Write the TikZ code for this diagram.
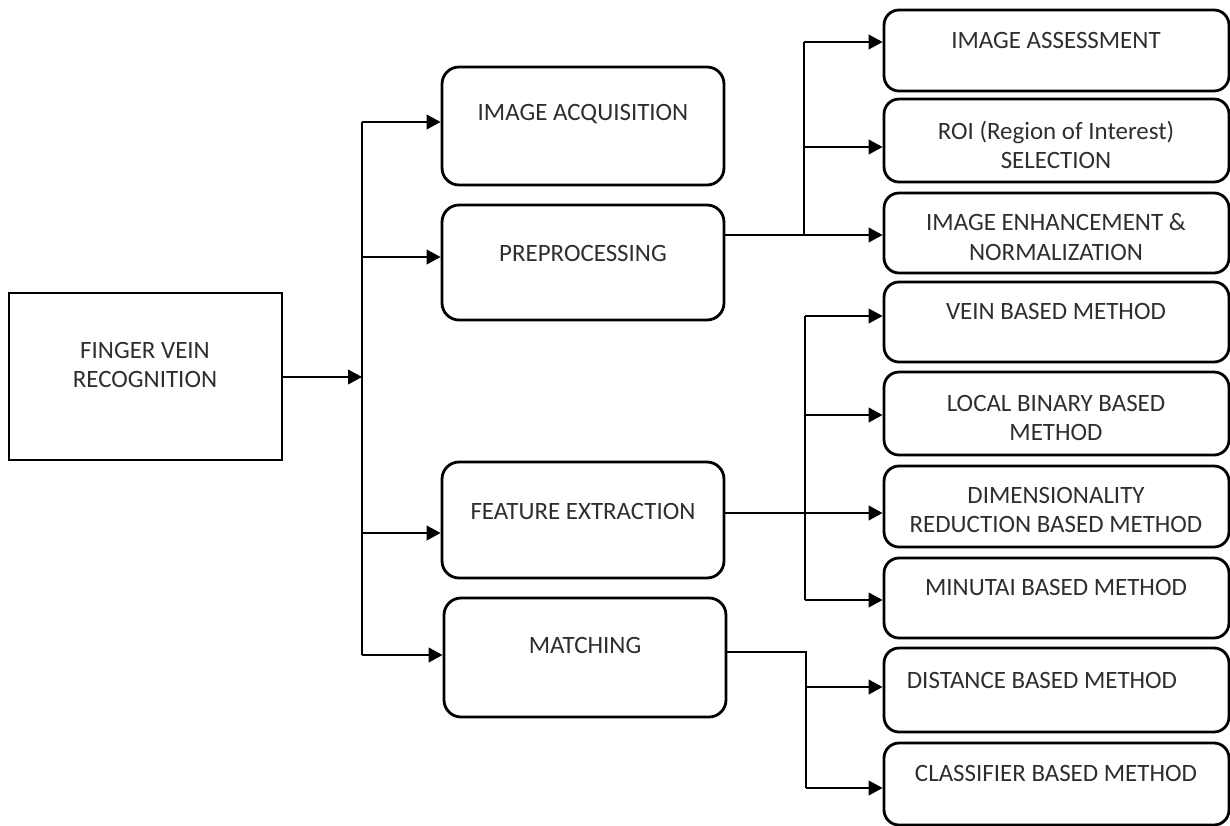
\documentclass[tikz,border=0pt]{standalone}
\usepackage{fontspec}
\setmainfont{Carlito}
\usetikzlibrary{arrows.meta}

\begin{document}
\begin{tikzpicture}[x=0.02cm, y=-0.02cm, line width=1.35pt,
    arr/.style={-{Triangle[length=2.8mm, width=2.9mm]}},
    rootbox/.style={draw, line width=1.6pt, minimum width=5.46cm, minimum height=3.34cm},
    stage/.style={draw, line width=1.6pt, rounded corners=0.34cm, minimum width=5.64cm},
    method/.style={draw, line width=1.6pt, rounded corners=0.3cm, minimum width=6.9cm},
    txt/.style={font=\fontsize{14.2}{17}\selectfont, text=black!82, align=center, inner sep=0pt}]
        \useasboundingbox (0,0) rectangle (1230,825);

        % --- Khối gốc ---
        \node[rootbox] (root) at (145.5,376.5) {};
        \node[txt] (rootT) at (145,365) {FINGER VEIN\\RECOGNITION};

        % --- Các bước chính (cột giữa) ---
        \node[stage, minimum height=2.36cm] (acq) at (583,126) {};
        \node[txt] (acqT) at (583,114) {IMAGE ACQUISITION};
        \node[stage, minimum height=2.30cm] (prep) at (583,262.5) {};
        \node[txt] (prepT) at (583,253) {PREPROCESSING};
        \node[stage, minimum height=2.32cm] (feat) at (583,520) {};
        \node[txt] (featT) at (583,511) {FEATURE EXTRACTION};
        \node[stage, minimum height=2.38cm] (match) at (585,657.5) {};
        \node[txt] (matchT) at (585,645) {MATCHING};

        % --- Các phương pháp (cột phải) ---
        \node[method, minimum height=1.62cm] (assess) at (1056.5,50.5) {};
        \node[txt] (assessT) at (1056,40) {IMAGE ASSESSMENT};
        \node[method, minimum height=1.66cm] (roi) at (1056.5,140.5) {};
        \node[txt] (roiT) at (1056,145) {ROI (Region of Interest)\\SELECTION};
        \node[method, minimum height=1.60cm] (enh) at (1056.5,233) {};
        \node[txt] (enhT) at (1056,237) {IMAGE ENHANCEMENT \&\\NORMALIZATION};
        \node[method, minimum height=1.60cm] (vein) at (1056.5,322) {};
        \node[txt] (veinT) at (1056,311) {VEIN BASED METHOD};
        \node[method, minimum height=1.66cm] (lbp) at (1056.5,413.5) {};
        \node[txt] (lbpT) at (1056,418) {LOCAL BINARY BASED\\METHOD};
        \node[method, minimum height=1.62cm] (dim) at (1056.5,506.5) {};
        \node[txt] (dimT) at (1056,510) {DIMENSIONALITY\\REDUCTION BASED METHOD};
        \node[method, minimum height=1.60cm] (minu) at (1056.5,598) {};
        \node[txt] (minuT) at (1056,587) {MINUTAI BASED METHOD};
        \node[method, minimum height=1.68cm] (dist) at (1056.5,690) {};
        \node[txt] (distT) at (1042,680) {DISTANCE BASED METHOD};
        \node[method, minimum height=1.64cm] (cls) at (1056.5,784) {};
        \node[txt] (clsT) at (1056,773) {CLASSIFIER BASED METHOD};

        % --- Trục phân nhánh chính ---
        \coordinate (ba) at (362,122);
        \coordinate (bp) at (362,257);
        \coordinate (br) at (362,377);
        \coordinate (bf) at (362,533);
        \coordinate (bm) at (362,655);
        \draw (ba) -- (bm);
        \draw[arr] (root.east |- br) -- (br);
        \draw[arr] (ba) -- (ba -| acq.west);
        \draw[arr] (bp) -- (bp -| prep.west);
        \draw[arr] (bf) -- (bf -| feat.west);
        \draw[arr] (bm) -- (bm -| match.west);

        % --- Nhánh tiền xử lý ---
        \coordinate (pa) at (804,42);
        \coordinate (pr) at (804,147);
        \coordinate (pe) at (804,235);
        \draw[arr] (prep.east |- pe) -- (pe -| enh.west);
        \draw (pe) -- (pa);
        \draw[arr] (pa) -- (pa -| assess.west);
        \draw[arr] (pr) -- (pr -| roi.west);

        % --- Nhánh trích xuất đặc trưng ---
        \coordinate (fv) at (805,316);
        \coordinate (fl) at (805,415);
        \coordinate (fd) at (805,513);
        \coordinate (fm) at (805,600);
        \draw[arr] (feat.east |- fd) -- (fd -| dim.west);
        \draw (fv) -- (fm);
        \draw[arr] (fv) -- (fv -| vein.west);
        \draw[arr] (fl) -- (fl -| lbp.west);
        \draw[arr] (fm) -- (fm -| minu.west);

        % --- Nhánh so khớp ---
        \coordinate (mk) at (806,652);
        \coordinate (md) at (806,687);
        \coordinate (mc) at (806,788);
        \draw (match.east |- mk) -- (mk) -- (mc);
        \draw[arr] (md) -- (md -| dist.west);
        \draw[arr] (mc) -- (mc -| cls.west);
    \end{tikzpicture}
\end{document}
